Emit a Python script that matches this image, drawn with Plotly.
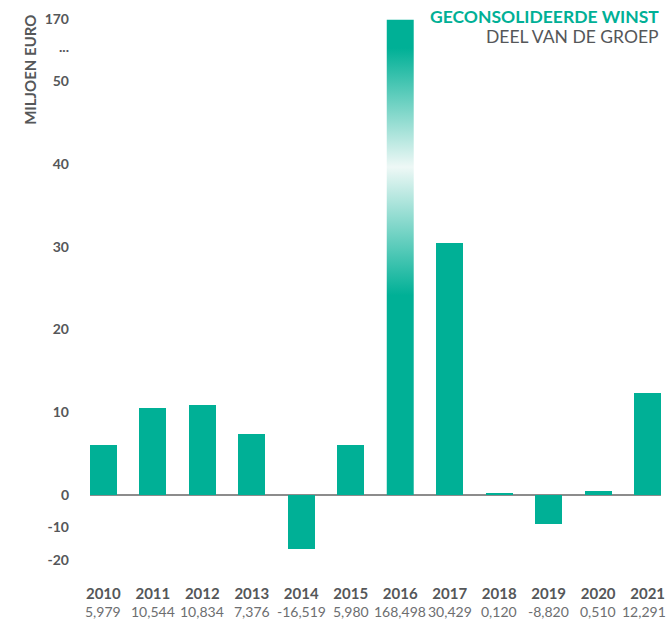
import plotly.graph_objects as go

years = ["2010", "2011", "2012", "2013", "2014", "2015", "2016", "2017", "2018", "2019", "2020", "2021"]
values = [5.979, 10.544, 10.834, 7.376, -16.519, 5.980, 168.498, 30.429, 0.120, -8.820, 0.510, 12.291]
value_labels = ["5,979", "10,544", "10,834", "7,376", "-16,519", "5,980", "168,498", "30,429", "0,120", "-8,820", "0,510", "12,291"]
y_tick_values = [170, None, 50, 40, 30, 20, 10, 0, -10, -20]
y_tick_labels = ["170", "...", "50", "40", "30", "20", "10", "0", "-10", "-20"]

TEAL = "#00b096"
GRAY = "#555759"
LIGHTGRAY = "#6d6e70"
NEG_RATIO = 0.393
BREAK_AT = 50
BREAK_TOP = 170
BREAK_SPAN = 7.5
DOTS_POS = 54.1


def to_display(v):
    if v is None:
        return DOTS_POS
    if v < 0:
        return v * NEG_RATIO
    if v <= BREAK_AT:
        return v
    return BREAK_AT + (v - BREAK_AT) * BREAK_SPAN / (BREAK_TOP - BREAK_AT)


idx = list(range(len(years)))
disp = [to_display(v) for v in values]
bar_w = 0.545

fig = go.Figure()

normal_idx = [i for i in idx if values[i] <= BREAK_AT]
fig.add_trace(go.Bar(
    x=[idx[i] for i in normal_idx],
    y=[disp[i] for i in normal_idx],
    width=bar_w,
    marker=dict(color=TEAL, line=dict(width=0)),
    hoverinfo="skip",
))

for i in idx:
    if values[i] > BREAK_AT:
        x0, x1 = idx[i] - bar_w / 2, idx[i] + bar_w / 2
        fig.add_trace(go.Scatter(
            x=[x0, x1, x1, x0, x0],
            y=[0, 0, disp[i], disp[i], 0],
            mode="lines",
            line=dict(width=0, color=TEAL),
            fill="toself",
            fillgradient=dict(
                type="vertical",
                start=0,
                stop=disp[i],
                colorscale=[[0, TEAL], [0.42, TEAL], [0.69, "#eef8f6"], [0.94, TEAL], [1, TEAL]],
            ),
            hoverinfo="skip",
        ))

value_annotations = []
for k, lab in enumerate(value_labels):
    value_annotations.append(dict(
        text=lab, xref="x", yref="paper", x=idx[k], y=-0.0755,
        xanchor="center", yanchor="middle", showarrow=False,
        xshift=-4 if k == len(value_labels) - 1 else 0,
        font=dict(size=14, color=LIGHTGRAY, family="Lato"),
    ))

fig.update_layout(
    width=666,
    height=625,
    margin=dict(l=90, r=5, t=6, b=56, autoexpand=False),
    plot_bgcolor="white",
    paper_bgcolor="white",
    showlegend=False,
    font=dict(family="Lato", color=GRAY),
    bargap=0,
    xaxis=dict(
        range=[-0.27, 11.27],
        tickmode="array",
        tickvals=idx,
        ticktext=[f"<b>{y}</b>" for y in years],
        tickangle=0,
        tickfont=dict(size=15, color=GRAY, family="Lato"),
        showgrid=False,
        zeroline=False,
        showline=False,
        ticks="",
        ticklabelstandoff=14,
        ticklabeloverflow="allow",
        automargin=False,
    ),
    yaxis=dict(
        range=[-8.94, 59.06],
        tickmode="array",
        tickvals=[to_display(v) for v in y_tick_values],
        ticktext=y_tick_labels,
        tickfont=dict(size=14, color=GRAY, family="Lato", weight="bold"),
        showgrid=False,
        zeroline=True,
        zerolinecolor="#8c8c8c",
        zerolinewidth=2,
        showline=False,
        ticks="",
        ticklabelstandoff=20,
        automargin=False,
    ),
    annotations=[
        dict(text="<b>MILJOEN EURO</b>", textangle=-90, xref="paper", yref="paper",
             x=-0.105, y=0.988, xanchor="center", yanchor="top", showarrow=False,
             font=dict(size=15, color=GRAY, family="Lato")),
        dict(text="<b>GECONSOLIDEERDE WINST</b>", xref="paper", yref="paper",
             x=1.0, y=0.981, xanchor="right", yanchor="middle", showarrow=False,
             font=dict(size=17.5, color=TEAL, family="Lato")),
        dict(text="DEEL VAN DE GROEP", xref="paper", yref="paper",
             x=1.0, y=0.946, xanchor="right", yanchor="middle", showarrow=False,
             font=dict(size=17.5, color=GRAY, family="Lato")),
    ] + value_annotations,
)

fig.write_html(
    "out.html",
    config={"displayModeBar": False},
    post_script="document.body.style.margin='0';document.body.style.padding='0';document.body.style.overflow='hidden';",
)
